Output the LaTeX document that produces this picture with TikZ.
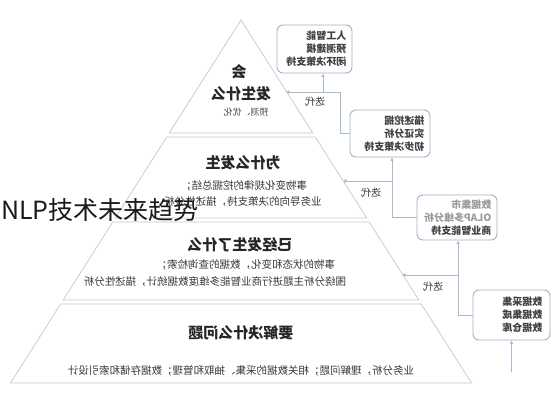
\documentclass[tikz,border=0pt]{standalone}
\usepackage{graphicx}
\usepackage{fontspec}
\setmainfont{Noto Sans CJK SC}
\usetikzlibrary{arrows.meta}
\newcommand{\mir}[1]{\reflectbox{#1}}
\newcommand{\boxlines}[1]{\mir{\begin{minipage}{66pt}\raggedright\fontsize{10}{13}\selectfont\bfseries #1\end{minipage}}}
\definecolor{bandline}{HTML}{C4C7CC}
\definecolor{boxline}{HTML}{9FB2CA}
\definecolor{conn}{HTML}{A9BACF}
\definecolor{tipblue}{HTML}{4F7DB8}
\begin{document}
\begin{tikzpicture}[x=1pt,y=-1pt,
  band/.style={draw=bandline, line width=0.7pt, fill=white},
  head/.style={font=\fontsize{15}{18}\selectfont\bfseries, text=black!85, inner sep=0pt},
  body/.style={font=\fontsize{10.5}{13}\selectfont, text=black!78, inner sep=0pt},
  smallbody/.style={font=\fontsize{9}{11}\selectfont, text=black!70, inner sep=0pt},
  infobox/.style={draw=boxline, line width=0.9pt, rounded corners=6pt, fill=white, inner sep=0pt},
  boxtext/.style={text=black!75, inner sep=0pt, anchor=east},
  iter/.style={font=\fontsize{10}{12}\selectfont, text=black!80, inner sep=0pt},
  connector/.style={draw=conn, line width=0.9pt},
  tipend/.style={connector, -{Circle[length=3pt, fill=tipblue]}},
  tiparrow/.style={connector, -{Latex[length=3.5pt, width=3.5pt, fill=tipblue]}}
]
\useasboundingbox (0,0) rectangle (558,400);
\fill[white] (0,0) rectangle (558,400);

% pyramid bands
\draw[band] (241,20) -- (312.8,133) -- (169.2,133) -- cycle;
\draw[band] (166.7,137) -- (315.3,137) -- (366.7,218) -- (115.3,218) -- cycle;
\draw[band] (112.7,222) -- (369.3,222) -- (418.8,300) -- (63.2,300) -- cycle;
\draw[band] (60.7,304) -- (421.3,304) -- (471.5,383) -- (10.5,383) -- cycle;

% level 1
\node[head] (l1a) at (239,72) {\mir{会}};
\node[head] (l1b) at (241,94) {\mir{发生什么}};
\node[smallbody] (l1c) at (246,112) {\mir{预测、优化}};

% level 2
\node[head] (l2a) at (243,163) {\mir{为什么发生}};
\node[body] (l2b) at (244,186) {\mir{事物变化规律的挖掘总结；}};
\node[body] (l2c) at (243,202) {\mir{业务导向的决策支持，描述性分析}};

% level 3
\node[head] (l3a) at (240,245) {\mir{已经发生了什么}};
\node[body] (l3b) at (246,265) {\mir{事物的状态和变化，数据的查询检索；}};
\node[body] (l3c) at (215,282) {\mir{围绕分析主题进行商业智能多维度数据统计，描述性分析}};

% level 4
\node[head] (l4a) at (241,333) {\mir{要解决什么问题}};
\node[body] (l4b) at (241,371) {\mir{业务分析，理解问题；相关数据的采集、抽取和管理；数据存储和索引设计}};

% side boxes
\node[infobox, minimum width=75pt, minimum height=48pt] (bA) at (314.5,49) {};
\node[boxtext] (tA) at ([xshift=-6pt]bA.east) {\boxlines{人工智能\\预测建模\\闭环决策支持}};
\node[infobox, minimum width=80pt, minimum height=47pt] (bB) at (390,133.5) {};
\node[boxtext] (tB) at ([xshift=-6pt]bB.east) {\boxlines{描述挖掘\\实证分析\\初步决策支持}};
\node[infobox, minimum width=80pt, minimum height=45pt] (bC) at (457,217.5) {};
\node[boxtext] (tC) at ([xshift=-6pt]bC.east) {\boxlines{\textcolor{black!40}{数据集市}\\\textcolor{black!40}{OLAP多维分析}\\商业智能支持}};
\node[infobox, minimum width=77pt, minimum height=50pt] (bD) at (511.5,315) {};
\node[boxtext] (tD) at ([xshift=-8pt]bD.east) {\boxlines{数据采集\\数据集成\\数据仓库}};

% connector coordinates
\coordinate (e1) at (287,92);
\coordinate (k1) at (340,92);
\coordinate (c1) at (340,133.5);
\coordinate (a1) at (323,92);
\coordinate (e2) at (344,181);
\coordinate (k2) at (392,181);
\coordinate (c2) at (392,217.5);
\coordinate (e3) at (403,275);
\coordinate (k3) at (458,275);
\coordinate (c3) at (458,315);
\coordinate (k4) at (511.5,372);

% connectors
\draw[connector] (bB.west) -- (c1) -- (k1);
\draw[tipend] (k1) -- (e1);
\draw[tiparrow] (a1) -- (a1 |- bA.south);
\draw[connector] (bC.west) -- (c2) -- (k2);
\draw[tiparrow] (k2) -- (k2 |- bB.south);
\draw[tipend] (k2) -- (e2);
\draw[connector] (bD.west) -- (c3) -- (k3);
\draw[tiparrow] (k3) -- (k3 |- bC.south);
\draw[tipend] (k3) -- (e3);
\draw[tiparrow] (k4) -- (bD.south);

% iteration labels
\node[iter] (i1) at (315,102) {\mir{迭代}};
\node[iter] (i2) at (371,193) {\mir{迭代}};
\node[iter] (i3) at (433,287) {\mir{迭代}};

% overlay title
\node[font=\fontsize{25}{25}\selectfont, text=black!90, anchor=west, inner sep=0pt] (title) at (1,210) {NLP技术未来趋势};
\end{tikzpicture}
\end{document}
